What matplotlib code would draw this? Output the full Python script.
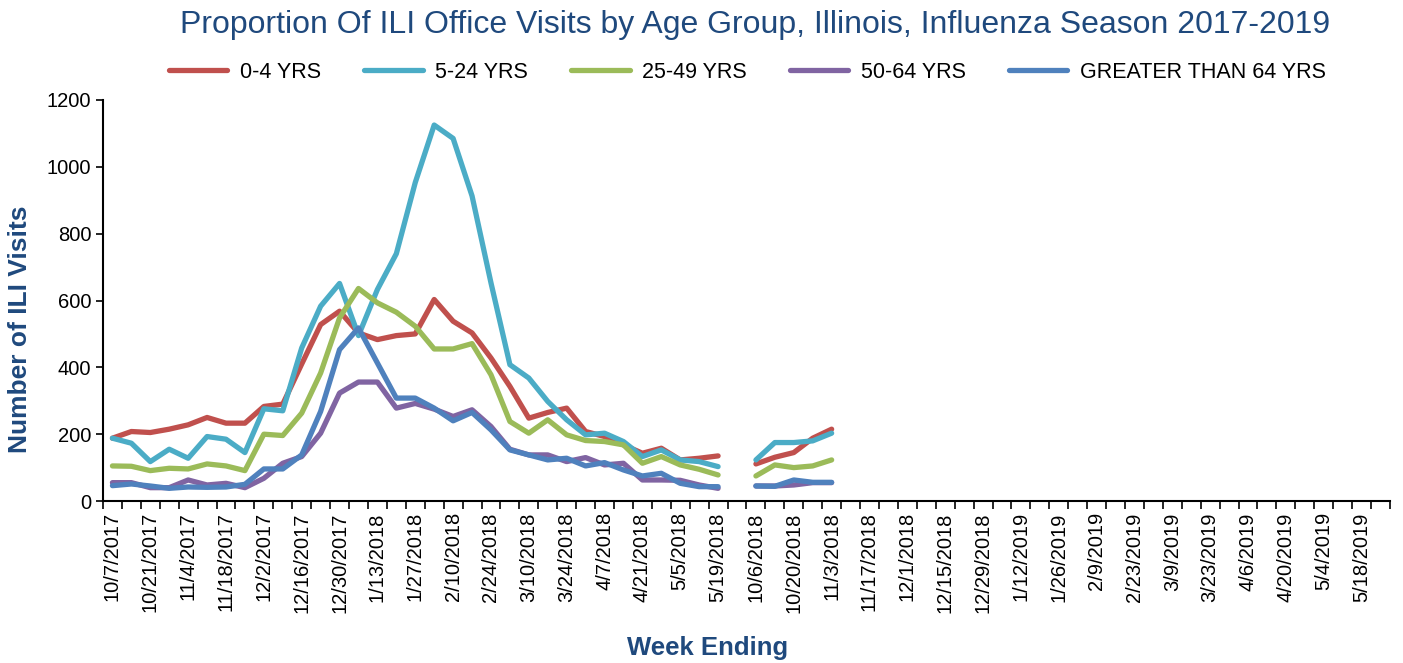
import numpy as np
import pandas as pd
import matplotlib
matplotlib.use("Agg")
import matplotlib.pyplot as plt

plt.rcParams['font.family'] = ['Liberation Sans', 'DejaVu Sans']

# week-ending categories: 2017-18 season, one empty slot, 2018-19 season
weeks_1 = pd.date_range("2017-10-07", "2018-05-19", freq="7D")
weeks_2 = pd.date_range("2018-10-06", "2019-05-25", freq="7D")
weeks = [f"{d.month}/{d.day}/{d.year}" for d in weeks_1] + [""] + \
        [f"{d.month}/{d.day}/{d.year}" for d in weeks_2]

series_names = ["0-4 YRS", "5-24 YRS", "25-49 YRS", "50-64 YRS", "GREATER THAN 64 YRS"]
colors = ["#C0504D", "#4BACC6", "#9BBB59", "#8064A2", "#4F81BD"]

# 2017-18 season, 10/7/2017 .. 5/19/2018
s1_04 = [188, 208, 205, 215, 228, 250, 233, 233, 283, 290, 410, 528, 568, 503, 483, 495, 500,
         603, 538, 503, 428, 343, 248, 265, 278, 208, 193, 168, 143, 158, 123, 128, 135]
s1_524 = [188, 173, 118, 155, 128, 193, 185, 145, 276, 270, 458, 583, 651, 495, 633, 740, 953,
          1125, 1085, 913, 653, 408, 368, 298, 243, 198, 203, 178, 133, 153, 123, 118, 103]
s1_2549 = [105, 104, 91, 98, 96, 111, 105, 91, 200, 196, 263, 383, 548, 636, 593, 565, 523,
           455, 455, 471, 378, 238, 203, 243, 198, 181, 178, 168, 113, 133, 108, 95, 78]
s1_5064 = [55, 55, 40, 40, 63, 48, 53, 40, 68, 113, 133, 203, 323, 356, 356, 278, 292,
           275, 253, 273, 223, 155, 138, 138, 118, 130, 108, 113, 63, 63, 62, 48, 38]
s1_64p = [46, 51, 45, 38, 42, 41, 42, 50, 96, 96, 138, 268, 453, 518, 413, 308, 308,
          278, 240, 265, 213, 153, 138, 123, 128, 105, 115, 93, 75, 83, 53, 43, 43]

# 2018-19 season so far, 10/6/2018 .. 11/3/2018
s2_04 = [111, 131, 145, 188, 215]
s2_524 = [123, 175, 175, 180, 203]
s2_2549 = [75, 108, 100, 105, 123]
s2_5064 = [45, 45, 48, 55, 55]
s2_64p = [45, 44, 63, 56, 56]


def full(s1, s2):
    out = np.full(len(weeks), np.nan)
    out[:len(s1)] = s1
    k = len(weeks_1) + 1
    out[k:k + len(s2)] = s2
    return out


series = [full(s1_04, s2_04), full(s1_524, s2_524), full(s1_2549, s2_2549),
          full(s1_5064, s2_5064), full(s1_64p, s2_64p)]

fig = plt.figure(figsize=(14.03, 6.63), dpi=100)
ax = fig.add_axes([0.0734, 0.2443, 0.9173, 0.6049])
x = np.arange(len(weeks))
for y, name, c in zip(series, series_names, colors):
    ax.plot(x, y, color=c, lw=3.8, label=name, solid_capstyle="round",
            solid_joinstyle="round")

ax.set_xlim(-0.5, len(weeks) - 0.5)
ax.set_ylim(0, 1200)
ax.set_yticks(range(0, 1201, 200))
ax.tick_params(axis="y", labelsize=14.5, direction="out", length=5, width=1.2)

ax.set_xticks(np.arange(-0.5, len(weeks), 1))
ax.set_xticklabels([])
ax.tick_params(axis="x", which="major", direction="out", length=6, width=1.2)
lab_pos = np.arange(0, len(weeks), 2)
ax.set_xticks(lab_pos, minor=True)
ax.set_xticklabels([weeks[i] for i in lab_pos], minor=True, rotation=90, fontsize=14.5)
ax.tick_params(axis="x", which="minor", length=0, pad=8)

for s in ("top", "right"):
    ax.spines[s].set_visible(False)
for s in ("left", "bottom"):
    ax.spines[s].set_linewidth(1.5)

navy = "#1F497D"
fig.text(0.0143, 0.504, "Number of ILI Visits", fontsize=19, fontweight="bold", color=navy,
         rotation=90, ha="center", va="center")
fig.text(0.504, 0.022, "Week Ending", fontsize=18.5, fontweight="bold", color=navy,
         ha="center", va="center")
fig.text(0.538, 0.962, "Proportion Of ILI Office Visits by Age Group, Illinois, Influenza Season 2017-2019",
         fontsize=23, color=navy, ha="center", va="center")
fig.legend(loc="center", bbox_to_anchor=(0.533, 0.891), ncol=5, frameon=False,
           fontsize=15.5, handlelength=2.7, handletextpad=0.6, columnspacing=2.0)

fig.savefig("out.png", dpi=100)
